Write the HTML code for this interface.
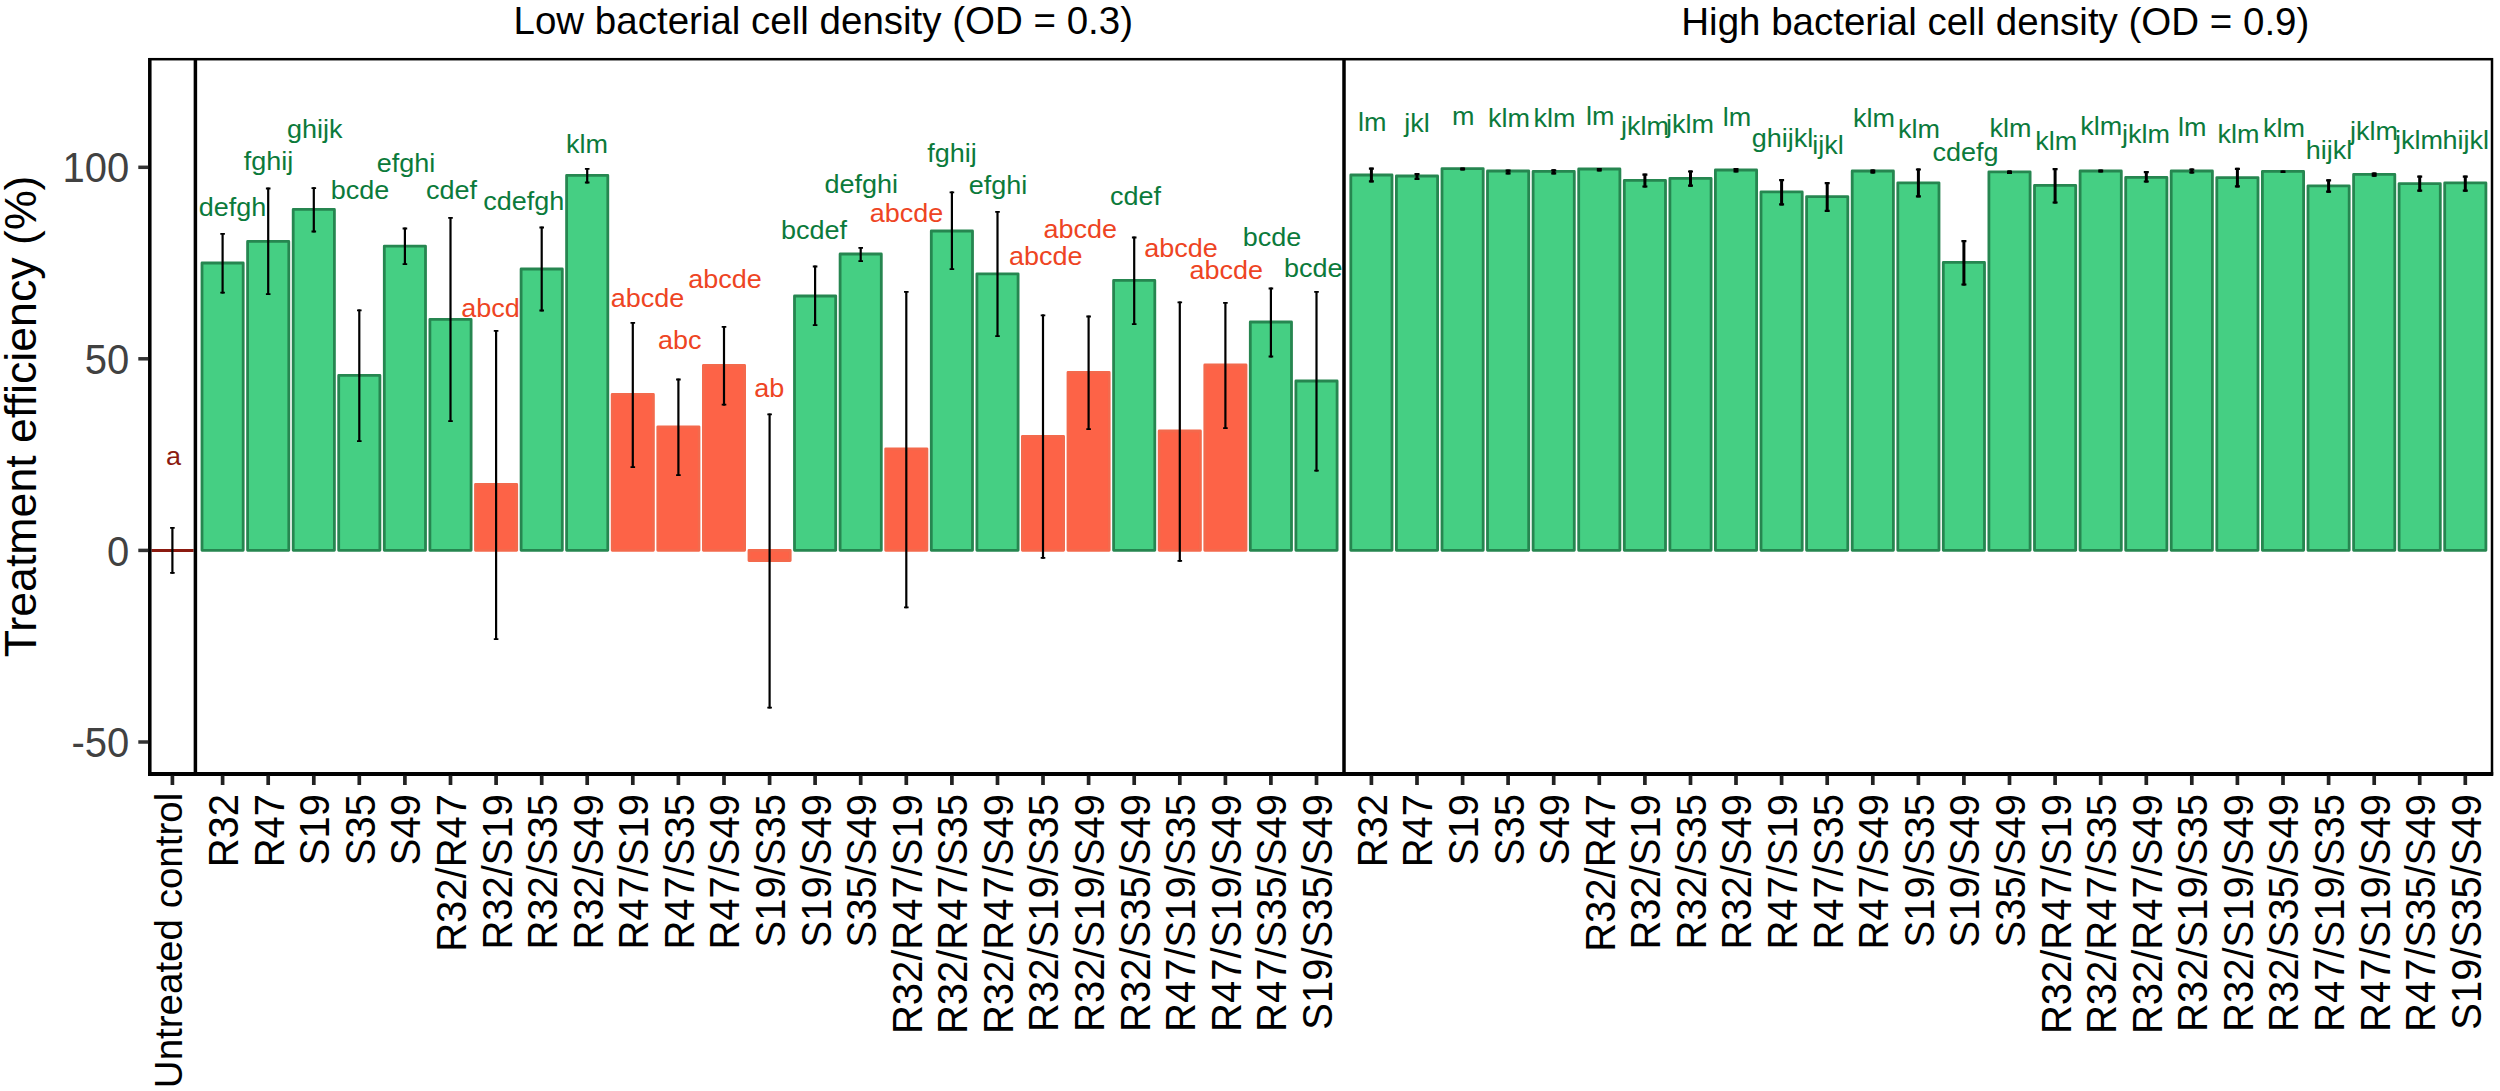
<!DOCTYPE html><html><head><meta charset="utf-8"><title>Treatment efficiency</title>
<style>html,body{margin:0;padding:0;background:#fff}body{width:2500px;height:1091px;overflow:hidden}svg{display:block}text{font-family:"Liberation Sans",Arial,sans-serif}</style></head><body>
<svg width="2500" height="1091" viewBox="0 0 2500 1091">
<rect width="2500" height="1091" fill="#fff"/>
<g>
<rect x="202.0" y="263.0" width="41.2" height="287.3" fill="#45cf83" stroke="#268650" stroke-width="2.8" stroke-linejoin="round"/>
<rect x="247.6" y="241.4" width="41.2" height="308.9" fill="#45cf83" stroke="#268650" stroke-width="2.8" stroke-linejoin="round"/>
<rect x="293.2" y="209.4" width="41.2" height="340.9" fill="#45cf83" stroke="#268650" stroke-width="2.8" stroke-linejoin="round"/>
<rect x="338.7" y="375.4" width="41.2" height="174.9" fill="#45cf83" stroke="#268650" stroke-width="2.8" stroke-linejoin="round"/>
<rect x="384.3" y="246.2" width="41.2" height="304.1" fill="#45cf83" stroke="#268650" stroke-width="2.8" stroke-linejoin="round"/>
<rect x="429.9" y="319.4" width="41.2" height="230.9" fill="#45cf83" stroke="#268650" stroke-width="2.8" stroke-linejoin="round"/>
<rect x="475.5" y="484.4" width="41.2" height="65.9" fill="#fd6347" stroke="#f4694c" stroke-width="2.8" stroke-linejoin="round"/>
<rect x="521.1" y="269.0" width="41.2" height="281.3" fill="#45cf83" stroke="#268650" stroke-width="2.8" stroke-linejoin="round"/>
<rect x="566.6" y="175.4" width="41.2" height="374.9" fill="#45cf83" stroke="#268650" stroke-width="2.8" stroke-linejoin="round"/>
<rect x="612.2" y="394.4" width="41.2" height="155.9" fill="#fd6347" stroke="#f4694c" stroke-width="2.8" stroke-linejoin="round"/>
<rect x="657.8" y="426.8" width="41.2" height="123.5" fill="#fd6347" stroke="#f4694c" stroke-width="2.8" stroke-linejoin="round"/>
<rect x="703.4" y="365.4" width="41.2" height="184.9" fill="#fd6347" stroke="#f4694c" stroke-width="2.8" stroke-linejoin="round"/>
<rect x="749.0" y="550.4" width="41.2" height="10.2" fill="#fd6347" stroke="#f4694c" stroke-width="2.8" stroke-linejoin="round"/>
<rect x="794.5" y="296.0" width="41.2" height="254.3" fill="#45cf83" stroke="#268650" stroke-width="2.8" stroke-linejoin="round"/>
<rect x="840.1" y="254.0" width="41.2" height="296.3" fill="#45cf83" stroke="#268650" stroke-width="2.8" stroke-linejoin="round"/>
<rect x="885.7" y="448.8" width="41.2" height="101.5" fill="#fd6347" stroke="#f4694c" stroke-width="2.8" stroke-linejoin="round"/>
<rect x="931.3" y="231.0" width="41.2" height="319.3" fill="#45cf83" stroke="#268650" stroke-width="2.8" stroke-linejoin="round"/>
<rect x="976.9" y="273.8" width="41.2" height="276.5" fill="#45cf83" stroke="#268650" stroke-width="2.8" stroke-linejoin="round"/>
<rect x="1022.4" y="436.4" width="41.2" height="113.9" fill="#fd6347" stroke="#f4694c" stroke-width="2.8" stroke-linejoin="round"/>
<rect x="1068.0" y="372.4" width="41.2" height="177.9" fill="#fd6347" stroke="#f4694c" stroke-width="2.8" stroke-linejoin="round"/>
<rect x="1113.6" y="280.4" width="41.2" height="269.9" fill="#45cf83" stroke="#268650" stroke-width="2.8" stroke-linejoin="round"/>
<rect x="1159.2" y="431.0" width="41.2" height="119.3" fill="#fd6347" stroke="#f4694c" stroke-width="2.8" stroke-linejoin="round"/>
<rect x="1204.8" y="365.0" width="41.2" height="185.3" fill="#fd6347" stroke="#f4694c" stroke-width="2.8" stroke-linejoin="round"/>
<rect x="1250.3" y="322.0" width="41.2" height="228.3" fill="#45cf83" stroke="#268650" stroke-width="2.8" stroke-linejoin="round"/>
<rect x="1295.9" y="381.0" width="41.2" height="169.3" fill="#45cf83" stroke="#268650" stroke-width="2.8" stroke-linejoin="round"/>
</g><g>
<rect x="1350.8" y="175.0" width="41.2" height="375.3" fill="#45cf83" stroke="#268650" stroke-width="2.8" stroke-linejoin="round"/>
<rect x="1396.4" y="176.0" width="41.2" height="374.3" fill="#45cf83" stroke="#268650" stroke-width="2.8" stroke-linejoin="round"/>
<rect x="1442.0" y="168.6" width="41.2" height="381.7" fill="#45cf83" stroke="#268650" stroke-width="2.8" stroke-linejoin="round"/>
<rect x="1487.5" y="171.0" width="41.2" height="379.3" fill="#45cf83" stroke="#268650" stroke-width="2.8" stroke-linejoin="round"/>
<rect x="1533.1" y="171.4" width="41.2" height="378.9" fill="#45cf83" stroke="#268650" stroke-width="2.8" stroke-linejoin="round"/>
<rect x="1578.7" y="169.0" width="41.2" height="381.3" fill="#45cf83" stroke="#268650" stroke-width="2.8" stroke-linejoin="round"/>
<rect x="1624.3" y="180.4" width="41.2" height="369.9" fill="#45cf83" stroke="#268650" stroke-width="2.8" stroke-linejoin="round"/>
<rect x="1669.9" y="178.4" width="41.2" height="371.9" fill="#45cf83" stroke="#268650" stroke-width="2.8" stroke-linejoin="round"/>
<rect x="1715.4" y="170.0" width="41.2" height="380.3" fill="#45cf83" stroke="#268650" stroke-width="2.8" stroke-linejoin="round"/>
<rect x="1761.0" y="191.9" width="41.2" height="358.4" fill="#45cf83" stroke="#268650" stroke-width="2.8" stroke-linejoin="round"/>
<rect x="1806.6" y="196.6" width="41.2" height="353.7" fill="#45cf83" stroke="#268650" stroke-width="2.8" stroke-linejoin="round"/>
<rect x="1852.2" y="171.0" width="41.2" height="379.3" fill="#45cf83" stroke="#268650" stroke-width="2.8" stroke-linejoin="round"/>
<rect x="1897.8" y="182.8" width="41.2" height="367.5" fill="#45cf83" stroke="#268650" stroke-width="2.8" stroke-linejoin="round"/>
<rect x="1943.3" y="262.4" width="41.2" height="287.9" fill="#45cf83" stroke="#268650" stroke-width="2.8" stroke-linejoin="round"/>
<rect x="1988.9" y="171.8" width="41.2" height="378.5" fill="#45cf83" stroke="#268650" stroke-width="2.8" stroke-linejoin="round"/>
<rect x="2034.5" y="185.4" width="41.2" height="364.9" fill="#45cf83" stroke="#268650" stroke-width="2.8" stroke-linejoin="round"/>
<rect x="2080.1" y="171.0" width="41.2" height="379.3" fill="#45cf83" stroke="#268650" stroke-width="2.8" stroke-linejoin="round"/>
<rect x="2125.7" y="177.4" width="41.2" height="372.9" fill="#45cf83" stroke="#268650" stroke-width="2.8" stroke-linejoin="round"/>
<rect x="2171.2" y="171.0" width="41.2" height="379.3" fill="#45cf83" stroke="#268650" stroke-width="2.8" stroke-linejoin="round"/>
<rect x="2216.8" y="177.6" width="41.2" height="372.7" fill="#45cf83" stroke="#268650" stroke-width="2.8" stroke-linejoin="round"/>
<rect x="2262.4" y="171.4" width="41.2" height="378.9" fill="#45cf83" stroke="#268650" stroke-width="2.8" stroke-linejoin="round"/>
<rect x="2308.0" y="185.8" width="41.2" height="364.5" fill="#45cf83" stroke="#268650" stroke-width="2.8" stroke-linejoin="round"/>
<rect x="2353.6" y="174.4" width="41.2" height="375.9" fill="#45cf83" stroke="#268650" stroke-width="2.8" stroke-linejoin="round"/>
<rect x="2399.1" y="183.6" width="41.2" height="366.7" fill="#45cf83" stroke="#268650" stroke-width="2.8" stroke-linejoin="round"/>
<rect x="2444.7" y="182.9" width="41.2" height="367.4" fill="#45cf83" stroke="#268650" stroke-width="2.8" stroke-linejoin="round"/>
</g>
<path d="M151.5 550.4H193.6" stroke="#8b1a10" stroke-width="3" fill="none"/>
<path d="M172.4 527.0V573.8" stroke="#000" stroke-width="2.2" fill="none"/><path d="M170.1 527.9h4.6M170.1 572.9h4.6" stroke="#000" stroke-width="1.8" fill="none"/>
<g>
<path d="M222.6 233.0V293.6" stroke="#000" stroke-width="2.2" fill="none"/><path d="M220.3 233.9h4.6M220.3 292.7h4.6" stroke="#000" stroke-width="1.8" fill="none"/>
<path d="M268.2 187.6V295.0" stroke="#000" stroke-width="2.2" fill="none"/><path d="M265.9 188.5h4.6M265.9 294.1h4.6" stroke="#000" stroke-width="1.8" fill="none"/>
<path d="M313.8 187.2V232.4" stroke="#000" stroke-width="2.2" fill="none"/><path d="M311.5 188.1h4.6M311.5 231.5h4.6" stroke="#000" stroke-width="1.8" fill="none"/>
<path d="M359.3 309.4V442.0" stroke="#000" stroke-width="2.2" fill="none"/><path d="M357.0 310.3h4.6M357.0 441.1h4.6" stroke="#000" stroke-width="1.8" fill="none"/>
<path d="M404.9 227.6V265.0" stroke="#000" stroke-width="2.2" fill="none"/><path d="M402.6 228.5h4.6M402.6 264.1h4.6" stroke="#000" stroke-width="1.8" fill="none"/>
<path d="M450.5 217.0V422.0" stroke="#000" stroke-width="2.2" fill="none"/><path d="M448.2 217.9h4.6M448.2 421.1h4.6" stroke="#000" stroke-width="1.8" fill="none"/>
<path d="M496.1 330.0V640.0" stroke="#000" stroke-width="2.2" fill="none"/><path d="M493.8 330.9h4.6M493.8 639.1h4.6" stroke="#000" stroke-width="1.8" fill="none"/>
<path d="M541.7 226.6V311.4" stroke="#000" stroke-width="2.2" fill="none"/><path d="M539.4 227.5h4.6M539.4 310.5h4.6" stroke="#000" stroke-width="1.8" fill="none"/>
<path d="M587.2 168.0V183.4" stroke="#000" stroke-width="2.2" fill="none"/><path d="M584.9 168.9h4.6M584.9 182.5h4.6" stroke="#000" stroke-width="1.8" fill="none"/>
<path d="M632.8 322.0V468.0" stroke="#000" stroke-width="2.2" fill="none"/><path d="M630.5 322.9h4.6M630.5 467.1h4.6" stroke="#000" stroke-width="1.8" fill="none"/>
<path d="M678.4 378.6V476.0" stroke="#000" stroke-width="2.2" fill="none"/><path d="M676.1 379.5h4.6M676.1 475.1h4.6" stroke="#000" stroke-width="1.8" fill="none"/>
<path d="M724.0 326.0V405.6" stroke="#000" stroke-width="2.2" fill="none"/><path d="M721.7 326.9h4.6M721.7 404.7h4.6" stroke="#000" stroke-width="1.8" fill="none"/>
<path d="M769.6 413.4V708.6" stroke="#000" stroke-width="2.2" fill="none"/><path d="M767.3 414.3h4.6M767.3 707.7h4.6" stroke="#000" stroke-width="1.8" fill="none"/>
<path d="M815.1 265.6V326.0" stroke="#000" stroke-width="2.2" fill="none"/><path d="M812.8 266.5h4.6M812.8 325.1h4.6" stroke="#000" stroke-width="1.8" fill="none"/>
<path d="M860.7 247.0V262.0" stroke="#000" stroke-width="2.2" fill="none"/><path d="M858.4 247.9h4.6M858.4 261.1h4.6" stroke="#000" stroke-width="1.8" fill="none"/>
<path d="M906.3 291.0V608.2" stroke="#000" stroke-width="2.2" fill="none"/><path d="M904.0 291.9h4.6M904.0 607.3h4.6" stroke="#000" stroke-width="1.8" fill="none"/>
<path d="M951.9 191.4V270.0" stroke="#000" stroke-width="2.2" fill="none"/><path d="M949.6 192.3h4.6M949.6 269.1h4.6" stroke="#000" stroke-width="1.8" fill="none"/>
<path d="M997.5 211.0V337.0" stroke="#000" stroke-width="2.2" fill="none"/><path d="M995.2 211.9h4.6M995.2 336.1h4.6" stroke="#000" stroke-width="1.8" fill="none"/>
<path d="M1043.0 314.4V558.7" stroke="#000" stroke-width="2.2" fill="none"/><path d="M1040.7 315.3h4.6M1040.7 557.8h4.6" stroke="#000" stroke-width="1.8" fill="none"/>
<path d="M1088.6 315.6V430.0" stroke="#000" stroke-width="2.2" fill="none"/><path d="M1086.3 316.5h4.6M1086.3 429.1h4.6" stroke="#000" stroke-width="1.8" fill="none"/>
<path d="M1134.2 236.6V325.0" stroke="#000" stroke-width="2.2" fill="none"/><path d="M1131.9 237.5h4.6M1131.9 324.1h4.6" stroke="#000" stroke-width="1.8" fill="none"/>
<path d="M1179.8 301.4V561.8" stroke="#000" stroke-width="2.2" fill="none"/><path d="M1177.5 302.3h4.6M1177.5 560.9h4.6" stroke="#000" stroke-width="1.8" fill="none"/>
<path d="M1225.4 302.0V429.0" stroke="#000" stroke-width="2.2" fill="none"/><path d="M1223.1 302.9h4.6M1223.1 428.1h4.6" stroke="#000" stroke-width="1.8" fill="none"/>
<path d="M1270.9 287.6V357.4" stroke="#000" stroke-width="2.2" fill="none"/><path d="M1268.6 288.5h4.6M1268.6 356.5h4.6" stroke="#000" stroke-width="1.8" fill="none"/>
<path d="M1316.5 291.0V471.6" stroke="#000" stroke-width="2.2" fill="none"/><path d="M1314.2 291.9h4.6M1314.2 470.7h4.6" stroke="#000" stroke-width="1.8" fill="none"/>
</g><g>
<path d="M1371.4 167.6V182.4" stroke="#000" stroke-width="3.0" fill="none"/><path d="M1368.9 168.7h5.0M1368.9 181.3h5.0" stroke="#000" stroke-width="2.2" fill="none"/>
<path d="M1417.0 173.0V180.0" stroke="#000" stroke-width="3.0" fill="none"/><path d="M1414.5 174.1h5.0M1414.5 178.9h5.0" stroke="#000" stroke-width="2.2" fill="none"/>
<path d="M1462.6 167.6V170.4" stroke="#000" stroke-width="3.0" fill="none"/><path d="M1460.1 168.7h5.0M1460.1 169.3h5.0" stroke="#000" stroke-width="2.2" fill="none"/>
<path d="M1508.1 169.6V174.4" stroke="#000" stroke-width="3.0" fill="none"/><path d="M1505.6 170.7h5.0M1505.6 173.3h5.0" stroke="#000" stroke-width="2.2" fill="none"/>
<path d="M1553.7 169.2V174.4" stroke="#000" stroke-width="3.0" fill="none"/><path d="M1551.2 170.3h5.0M1551.2 173.3h5.0" stroke="#000" stroke-width="2.2" fill="none"/>
<path d="M1599.3 168.0V171.4" stroke="#000" stroke-width="3.0" fill="none"/><path d="M1596.8 169.1h5.0M1596.8 170.3h5.0" stroke="#000" stroke-width="2.2" fill="none"/>
<path d="M1644.9 173.6V187.6" stroke="#000" stroke-width="3.0" fill="none"/><path d="M1642.4 174.7h5.0M1642.4 186.5h5.0" stroke="#000" stroke-width="2.2" fill="none"/>
<path d="M1690.5 170.4V186.8" stroke="#000" stroke-width="3.0" fill="none"/><path d="M1688.0 171.5h5.0M1688.0 185.7h5.0" stroke="#000" stroke-width="2.2" fill="none"/>
<path d="M1736.0 168.0V172.4" stroke="#000" stroke-width="3.0" fill="none"/><path d="M1733.5 169.1h5.0M1733.5 171.3h5.0" stroke="#000" stroke-width="2.2" fill="none"/>
<path d="M1781.6 179.0V205.5" stroke="#000" stroke-width="3.0" fill="none"/><path d="M1779.1 180.1h5.0M1779.1 204.4h5.0" stroke="#000" stroke-width="2.2" fill="none"/>
<path d="M1827.2 182.0V212.0" stroke="#000" stroke-width="3.0" fill="none"/><path d="M1824.7 183.1h5.0M1824.7 210.9h5.0" stroke="#000" stroke-width="2.2" fill="none"/>
<path d="M1872.8 169.4V173.6" stroke="#000" stroke-width="3.0" fill="none"/><path d="M1870.3 170.5h5.0M1870.3 172.5h5.0" stroke="#000" stroke-width="2.2" fill="none"/>
<path d="M1918.4 168.4V197.4" stroke="#000" stroke-width="3.0" fill="none"/><path d="M1915.9 169.5h5.0M1915.9 196.3h5.0" stroke="#000" stroke-width="2.2" fill="none"/>
<path d="M1963.9 240.0V285.6" stroke="#000" stroke-width="3.0" fill="none"/><path d="M1961.4 241.1h5.0M1961.4 284.5h5.0" stroke="#000" stroke-width="2.2" fill="none"/>
<path d="M2009.5 170.4V174.0" stroke="#000" stroke-width="3.0" fill="none"/><path d="M2007.0 171.5h5.0M2007.0 172.9h5.0" stroke="#000" stroke-width="2.2" fill="none"/>
<path d="M2055.1 168.0V203.6" stroke="#000" stroke-width="3.0" fill="none"/><path d="M2052.6 169.1h5.0M2052.6 202.5h5.0" stroke="#000" stroke-width="2.2" fill="none"/>
<path d="M2100.7 169.6V172.4" stroke="#000" stroke-width="3.0" fill="none"/><path d="M2098.2 170.7h5.0M2098.2 171.3h5.0" stroke="#000" stroke-width="2.2" fill="none"/>
<path d="M2146.3 171.0V182.6" stroke="#000" stroke-width="3.0" fill="none"/><path d="M2143.8 172.1h5.0M2143.8 181.5h5.0" stroke="#000" stroke-width="2.2" fill="none"/>
<path d="M2191.8 168.4V173.6" stroke="#000" stroke-width="3.0" fill="none"/><path d="M2189.3 169.5h5.0M2189.3 172.5h5.0" stroke="#000" stroke-width="2.2" fill="none"/>
<path d="M2237.4 167.8V187.5" stroke="#000" stroke-width="3.0" fill="none"/><path d="M2234.9 168.9h5.0M2234.9 186.4h5.0" stroke="#000" stroke-width="2.2" fill="none"/>
<path d="M2283.0 170.5V173.0" stroke="#000" stroke-width="3.0" fill="none"/><path d="M2280.5 171.6h5.0M2280.5 171.9h5.0" stroke="#000" stroke-width="2.2" fill="none"/>
<path d="M2328.6 179.3V192.8" stroke="#000" stroke-width="3.0" fill="none"/><path d="M2326.1 180.4h5.0M2326.1 191.7h5.0" stroke="#000" stroke-width="2.2" fill="none"/>
<path d="M2374.2 172.4V176.8" stroke="#000" stroke-width="3.0" fill="none"/><path d="M2371.7 173.5h5.0M2371.7 175.7h5.0" stroke="#000" stroke-width="2.2" fill="none"/>
<path d="M2419.7 175.6V191.8" stroke="#000" stroke-width="3.0" fill="none"/><path d="M2417.2 176.7h5.0M2417.2 190.7h5.0" stroke="#000" stroke-width="2.2" fill="none"/>
<path d="M2465.3 175.6V191.8" stroke="#000" stroke-width="3.0" fill="none"/><path d="M2462.8 176.7h5.0M2462.8 190.7h5.0" stroke="#000" stroke-width="2.2" fill="none"/>
</g>
<g font-size="27" text-anchor="middle">
<text transform="translate(232.5 216.1) scale(1 .95)" fill="#0b7a3b">defgh</text>
<text transform="translate(268.5 170.1) scale(1 .95)" fill="#0b7a3b">fghij</text>
<text transform="translate(314.8 138.1) scale(1 .95)" fill="#0b7a3b">ghijk</text>
<text transform="translate(360.0 199.1) scale(1 .95)" fill="#0b7a3b">bcde</text>
<text transform="translate(406.0 172.1) scale(1 .95)" fill="#0b7a3b">efghi</text>
<text transform="translate(451.5 199.1) scale(1 .95)" fill="#0b7a3b">cdef</text>
<text transform="translate(490.5 317.1) scale(1 .95)" fill="#ee4423">abcd</text>
<text transform="translate(523.7 210.1) scale(1 .95)" fill="#0b7a3b">cdefgh</text>
<text transform="translate(587.0 153.1) scale(1 .95)" fill="#0b7a3b">klm</text>
<text transform="translate(647.6 307.1) scale(1 .95)" fill="#ee4423">abcde</text>
<text transform="translate(679.8 349.1) scale(1 .95)" fill="#ee4423">abc</text>
<text transform="translate(725.0 288.1) scale(1 .95)" fill="#ee4423">abcde</text>
<text transform="translate(769.3 397.1) scale(1 .95)" fill="#ee4423">ab</text>
<text transform="translate(814.0 239.1) scale(1 .95)" fill="#0b7a3b">bcdef</text>
<text transform="translate(861.2 193.1) scale(1 .95)" fill="#0b7a3b">defghi</text>
<text transform="translate(906.5 222.1) scale(1 .95)" fill="#ee4423">abcde</text>
<text transform="translate(952.0 162.1) scale(1 .95)" fill="#0b7a3b">fghij</text>
<text transform="translate(998.0 194.1) scale(1 .95)" fill="#0b7a3b">efghi</text>
<text transform="translate(1045.8 265.1) scale(1 .95)" fill="#ee4423">abcde</text>
<text transform="translate(1080.2 237.7) scale(1 .95)" fill="#ee4423">abcde</text>
<text transform="translate(1135.6 205.1) scale(1 .95)" fill="#0b7a3b">cdef</text>
<text transform="translate(1181.0 257.1) scale(1 .95)" fill="#ee4423">abcde</text>
<text transform="translate(1226.3 279.1) scale(1 .95)" fill="#ee4423">abcde</text>
<text transform="translate(1272.0 246.1) scale(1 .95)" fill="#0b7a3b">bcde</text>
<text transform="translate(1313.3 277.1) scale(1 .95)" fill="#0b7a3b">bcde</text>
<text transform="translate(173.4 465.3) scale(1 .95)" fill="#8b1a10">a</text>
<text transform="translate(1372.3 130.7) scale(1 .95)" fill="#0b7a3b">lm</text>
<text transform="translate(1417.0 131.5) scale(1 .95)" fill="#0b7a3b">jkl</text>
<text transform="translate(1463.3 124.5) scale(1 .95)" fill="#0b7a3b">m</text>
<text transform="translate(1509.0 127.1) scale(1 .95)" fill="#0b7a3b">klm</text>
<text transform="translate(1554.5 127.1) scale(1 .95)" fill="#0b7a3b">klm</text>
<text transform="translate(1600.2 125.3) scale(1 .95)" fill="#0b7a3b">lm</text>
<text transform="translate(1645.0 135.1) scale(1 .95)" fill="#0b7a3b">jklm</text>
<text transform="translate(1690.0 133.1) scale(1 .95)" fill="#0b7a3b">jklm</text>
<text transform="translate(1737.0 126.1) scale(1 .95)" fill="#0b7a3b">lm</text>
<text transform="translate(1782.5 146.7) scale(1 .95)" fill="#0b7a3b">ghijkl</text>
<text transform="translate(1828.0 154.1) scale(1 .95)" fill="#0b7a3b">ijkl</text>
<text transform="translate(1874.0 126.7) scale(1 .95)" fill="#0b7a3b">klm</text>
<text transform="translate(1919.0 137.7) scale(1 .95)" fill="#0b7a3b">klm</text>
<text transform="translate(1965.5 160.7) scale(1 .95)" fill="#0b7a3b">cdefg</text>
<text transform="translate(2010.5 137.1) scale(1 .95)" fill="#0b7a3b">klm</text>
<text transform="translate(2056.3 150.1) scale(1 .95)" fill="#0b7a3b">klm</text>
<text transform="translate(2101.3 135.1) scale(1 .95)" fill="#0b7a3b">klm</text>
<text transform="translate(2146.0 142.5) scale(1 .95)" fill="#0b7a3b">jklm</text>
<text transform="translate(2192.2 136.1) scale(1 .95)" fill="#0b7a3b">lm</text>
<text transform="translate(2238.5 143.3) scale(1 .95)" fill="#0b7a3b">klm</text>
<text transform="translate(2284.0 136.9) scale(1 .95)" fill="#0b7a3b">klm</text>
<text transform="translate(2329.0 159.1) scale(1 .95)" fill="#0b7a3b">hijkl</text>
<text transform="translate(2374.0 139.8) scale(1 .95)" fill="#0b7a3b">jklm</text>
<text transform="translate(2419.0 149.3) scale(1 .95)" fill="#0b7a3b">jklm</text>
<text transform="translate(2465.7 149.3) scale(1 .95)" fill="#0b7a3b">hijkl</text>
</g>
<rect x="149.8" y="59.2" width="2342.2" height="714.8" fill="none" stroke="#000" stroke-width="2.5"/>
<path d="M149.8 58V776" stroke="#000" stroke-width="3.5" fill="none"/><path d="M148 774H2493.2" stroke="#000" stroke-width="3.9" fill="none"/>
<path d="M195.4 59V774M1344 59V774" stroke="#000" stroke-width="3.5" fill="none"/>
<g stroke="#333" stroke-width="3.5" fill="none">
<path d="M138.3 167.3H148.2"/>
<path d="M138.3 358.8H148.2"/>
<path d="M138.3 550.4H148.2"/>
<path d="M138.3 742.0H148.2"/>
</g>
<g font-size="40" fill="#414141" text-anchor="end">
<text transform="translate(129.2 182.4) scale(1 1.04)">100</text>
<text transform="translate(129.2 373.9) scale(1 1.04)">50</text>
<text transform="translate(129.2 565.5) scale(1 1.04)">0</text>
<text transform="translate(129.2 757.1) scale(1 1.04)">-50</text>
</g>
<g stroke="#222" stroke-width="3.7" fill="none">
<path d="M172.4 775.5V785"/>
<path d="M222.6 775.5V785"/>
<path d="M268.2 775.5V785"/>
<path d="M313.8 775.5V785"/>
<path d="M359.3 775.5V785"/>
<path d="M404.9 775.5V785"/>
<path d="M450.5 775.5V785"/>
<path d="M496.1 775.5V785"/>
<path d="M541.7 775.5V785"/>
<path d="M587.2 775.5V785"/>
<path d="M632.8 775.5V785"/>
<path d="M678.4 775.5V785"/>
<path d="M724.0 775.5V785"/>
<path d="M769.6 775.5V785"/>
<path d="M815.1 775.5V785"/>
<path d="M860.7 775.5V785"/>
<path d="M906.3 775.5V785"/>
<path d="M951.9 775.5V785"/>
<path d="M997.5 775.5V785"/>
<path d="M1043.0 775.5V785"/>
<path d="M1088.6 775.5V785"/>
<path d="M1134.2 775.5V785"/>
<path d="M1179.8 775.5V785"/>
<path d="M1225.4 775.5V785"/>
<path d="M1270.9 775.5V785"/>
<path d="M1316.5 775.5V785"/>
<path d="M1371.4 775.5V785"/>
<path d="M1417.0 775.5V785"/>
<path d="M1462.6 775.5V785"/>
<path d="M1508.1 775.5V785"/>
<path d="M1553.7 775.5V785"/>
<path d="M1599.3 775.5V785"/>
<path d="M1644.9 775.5V785"/>
<path d="M1690.5 775.5V785"/>
<path d="M1736.0 775.5V785"/>
<path d="M1781.6 775.5V785"/>
<path d="M1827.2 775.5V785"/>
<path d="M1872.8 775.5V785"/>
<path d="M1918.4 775.5V785"/>
<path d="M1963.9 775.5V785"/>
<path d="M2009.5 775.5V785"/>
<path d="M2055.1 775.5V785"/>
<path d="M2100.7 775.5V785"/>
<path d="M2146.3 775.5V785"/>
<path d="M2191.8 775.5V785"/>
<path d="M2237.4 775.5V785"/>
<path d="M2283.0 775.5V785"/>
<path d="M2328.6 775.5V785"/>
<path d="M2374.2 775.5V785"/>
<path d="M2419.7 775.5V785"/>
<path d="M2465.3 775.5V785"/>
</g>
<g font-size="40" fill="#000" text-anchor="end">
<text transform="translate(182.2 792.8) rotate(-90)" font-size="38.5">Untreated control</text>
<text transform="translate(238.0 794) rotate(-90) scale(1 1.04)">R32</text>
<text transform="translate(283.6 794) rotate(-90) scale(1 1.04)">R47</text>
<text transform="translate(329.2 794) rotate(-90) scale(1 1.04)">S19</text>
<text transform="translate(374.7 794) rotate(-90) scale(1 1.04)">S35</text>
<text transform="translate(420.3 794) rotate(-90) scale(1 1.04)">S49</text>
<text transform="translate(465.9 794) rotate(-90) scale(1 1.04)">R32/R47</text>
<text transform="translate(511.5 794) rotate(-90) scale(1 1.04)">R32/S19</text>
<text transform="translate(557.1 794) rotate(-90) scale(1 1.04)">R32/S35</text>
<text transform="translate(602.6 794) rotate(-90) scale(1 1.04)">R32/S49</text>
<text transform="translate(648.2 794) rotate(-90) scale(1 1.04)">R47/S19</text>
<text transform="translate(693.8 794) rotate(-90) scale(1 1.04)">R47/S35</text>
<text transform="translate(739.4 794) rotate(-90) scale(1 1.04)">R47/S49</text>
<text transform="translate(785.0 794) rotate(-90) scale(1 1.04)">S19/S35</text>
<text transform="translate(830.5 794) rotate(-90) scale(1 1.04)">S19/S49</text>
<text transform="translate(876.1 794) rotate(-90) scale(1 1.04)">S35/S49</text>
<text transform="translate(921.7 794) rotate(-90) scale(1 1.04)">R32/R47/S19</text>
<text transform="translate(967.3 794) rotate(-90) scale(1 1.04)">R32/R47/S35</text>
<text transform="translate(1012.9 794) rotate(-90) scale(1 1.04)">R32/R47/S49</text>
<text transform="translate(1058.4 794) rotate(-90) scale(1 1.04)">R32/S19/S35</text>
<text transform="translate(1104.0 794) rotate(-90) scale(1 1.04)">R32/S19/S49</text>
<text transform="translate(1149.6 794) rotate(-90) scale(1 1.04)">R32/S35/S49</text>
<text transform="translate(1195.2 794) rotate(-90) scale(1 1.04)">R47/S19/S35</text>
<text transform="translate(1240.8 794) rotate(-90) scale(1 1.04)">R47/S19/S49</text>
<text transform="translate(1286.3 794) rotate(-90) scale(1 1.04)">R47/S35/S49</text>
<text transform="translate(1331.9 794) rotate(-90) scale(1 1.04)">S19/S35/S49</text>
<text transform="translate(1386.8 794) rotate(-90) scale(1 1.04)">R32</text>
<text transform="translate(1432.4 794) rotate(-90) scale(1 1.04)">R47</text>
<text transform="translate(1478.0 794) rotate(-90) scale(1 1.04)">S19</text>
<text transform="translate(1523.5 794) rotate(-90) scale(1 1.04)">S35</text>
<text transform="translate(1569.1 794) rotate(-90) scale(1 1.04)">S49</text>
<text transform="translate(1614.7 794) rotate(-90) scale(1 1.04)">R32/R47</text>
<text transform="translate(1660.3 794) rotate(-90) scale(1 1.04)">R32/S19</text>
<text transform="translate(1705.9 794) rotate(-90) scale(1 1.04)">R32/S35</text>
<text transform="translate(1751.4 794) rotate(-90) scale(1 1.04)">R32/S49</text>
<text transform="translate(1797.0 794) rotate(-90) scale(1 1.04)">R47/S19</text>
<text transform="translate(1842.6 794) rotate(-90) scale(1 1.04)">R47/S35</text>
<text transform="translate(1888.2 794) rotate(-90) scale(1 1.04)">R47/S49</text>
<text transform="translate(1933.8 794) rotate(-90) scale(1 1.04)">S19/S35</text>
<text transform="translate(1979.3 794) rotate(-90) scale(1 1.04)">S19/S49</text>
<text transform="translate(2024.9 794) rotate(-90) scale(1 1.04)">S35/S49</text>
<text transform="translate(2070.5 794) rotate(-90) scale(1 1.04)">R32/R47/S19</text>
<text transform="translate(2116.1 794) rotate(-90) scale(1 1.04)">R32/R47/S35</text>
<text transform="translate(2161.7 794) rotate(-90) scale(1 1.04)">R32/R47/S49</text>
<text transform="translate(2207.2 794) rotate(-90) scale(1 1.04)">R32/S19/S35</text>
<text transform="translate(2252.8 794) rotate(-90) scale(1 1.04)">R32/S19/S49</text>
<text transform="translate(2298.4 794) rotate(-90) scale(1 1.04)">R32/S35/S49</text>
<text transform="translate(2344.0 794) rotate(-90) scale(1 1.04)">R47/S19/S35</text>
<text transform="translate(2389.6 794) rotate(-90) scale(1 1.04)">R47/S19/S49</text>
<text transform="translate(2435.1 794) rotate(-90) scale(1 1.04)">R47/S35/S49</text>
<text transform="translate(2480.7 794) rotate(-90) scale(1 1.04)">S19/S35/S49</text>
</g>
<text x="823.3" y="33.8" font-size="38.5" text-anchor="middle" fill="#000">Low bacterial cell density (OD = 0.3)</text>
<text x="1995.3" y="34.8" font-size="38.5" text-anchor="middle" fill="#000">High bacterial cell density (OD = 0.9)</text>
<text transform="translate(36.1 416.4) rotate(-90)" font-size="44.7" text-anchor="middle" fill="#000">Treatment efficiency (%)</text>
</svg></body></html>
